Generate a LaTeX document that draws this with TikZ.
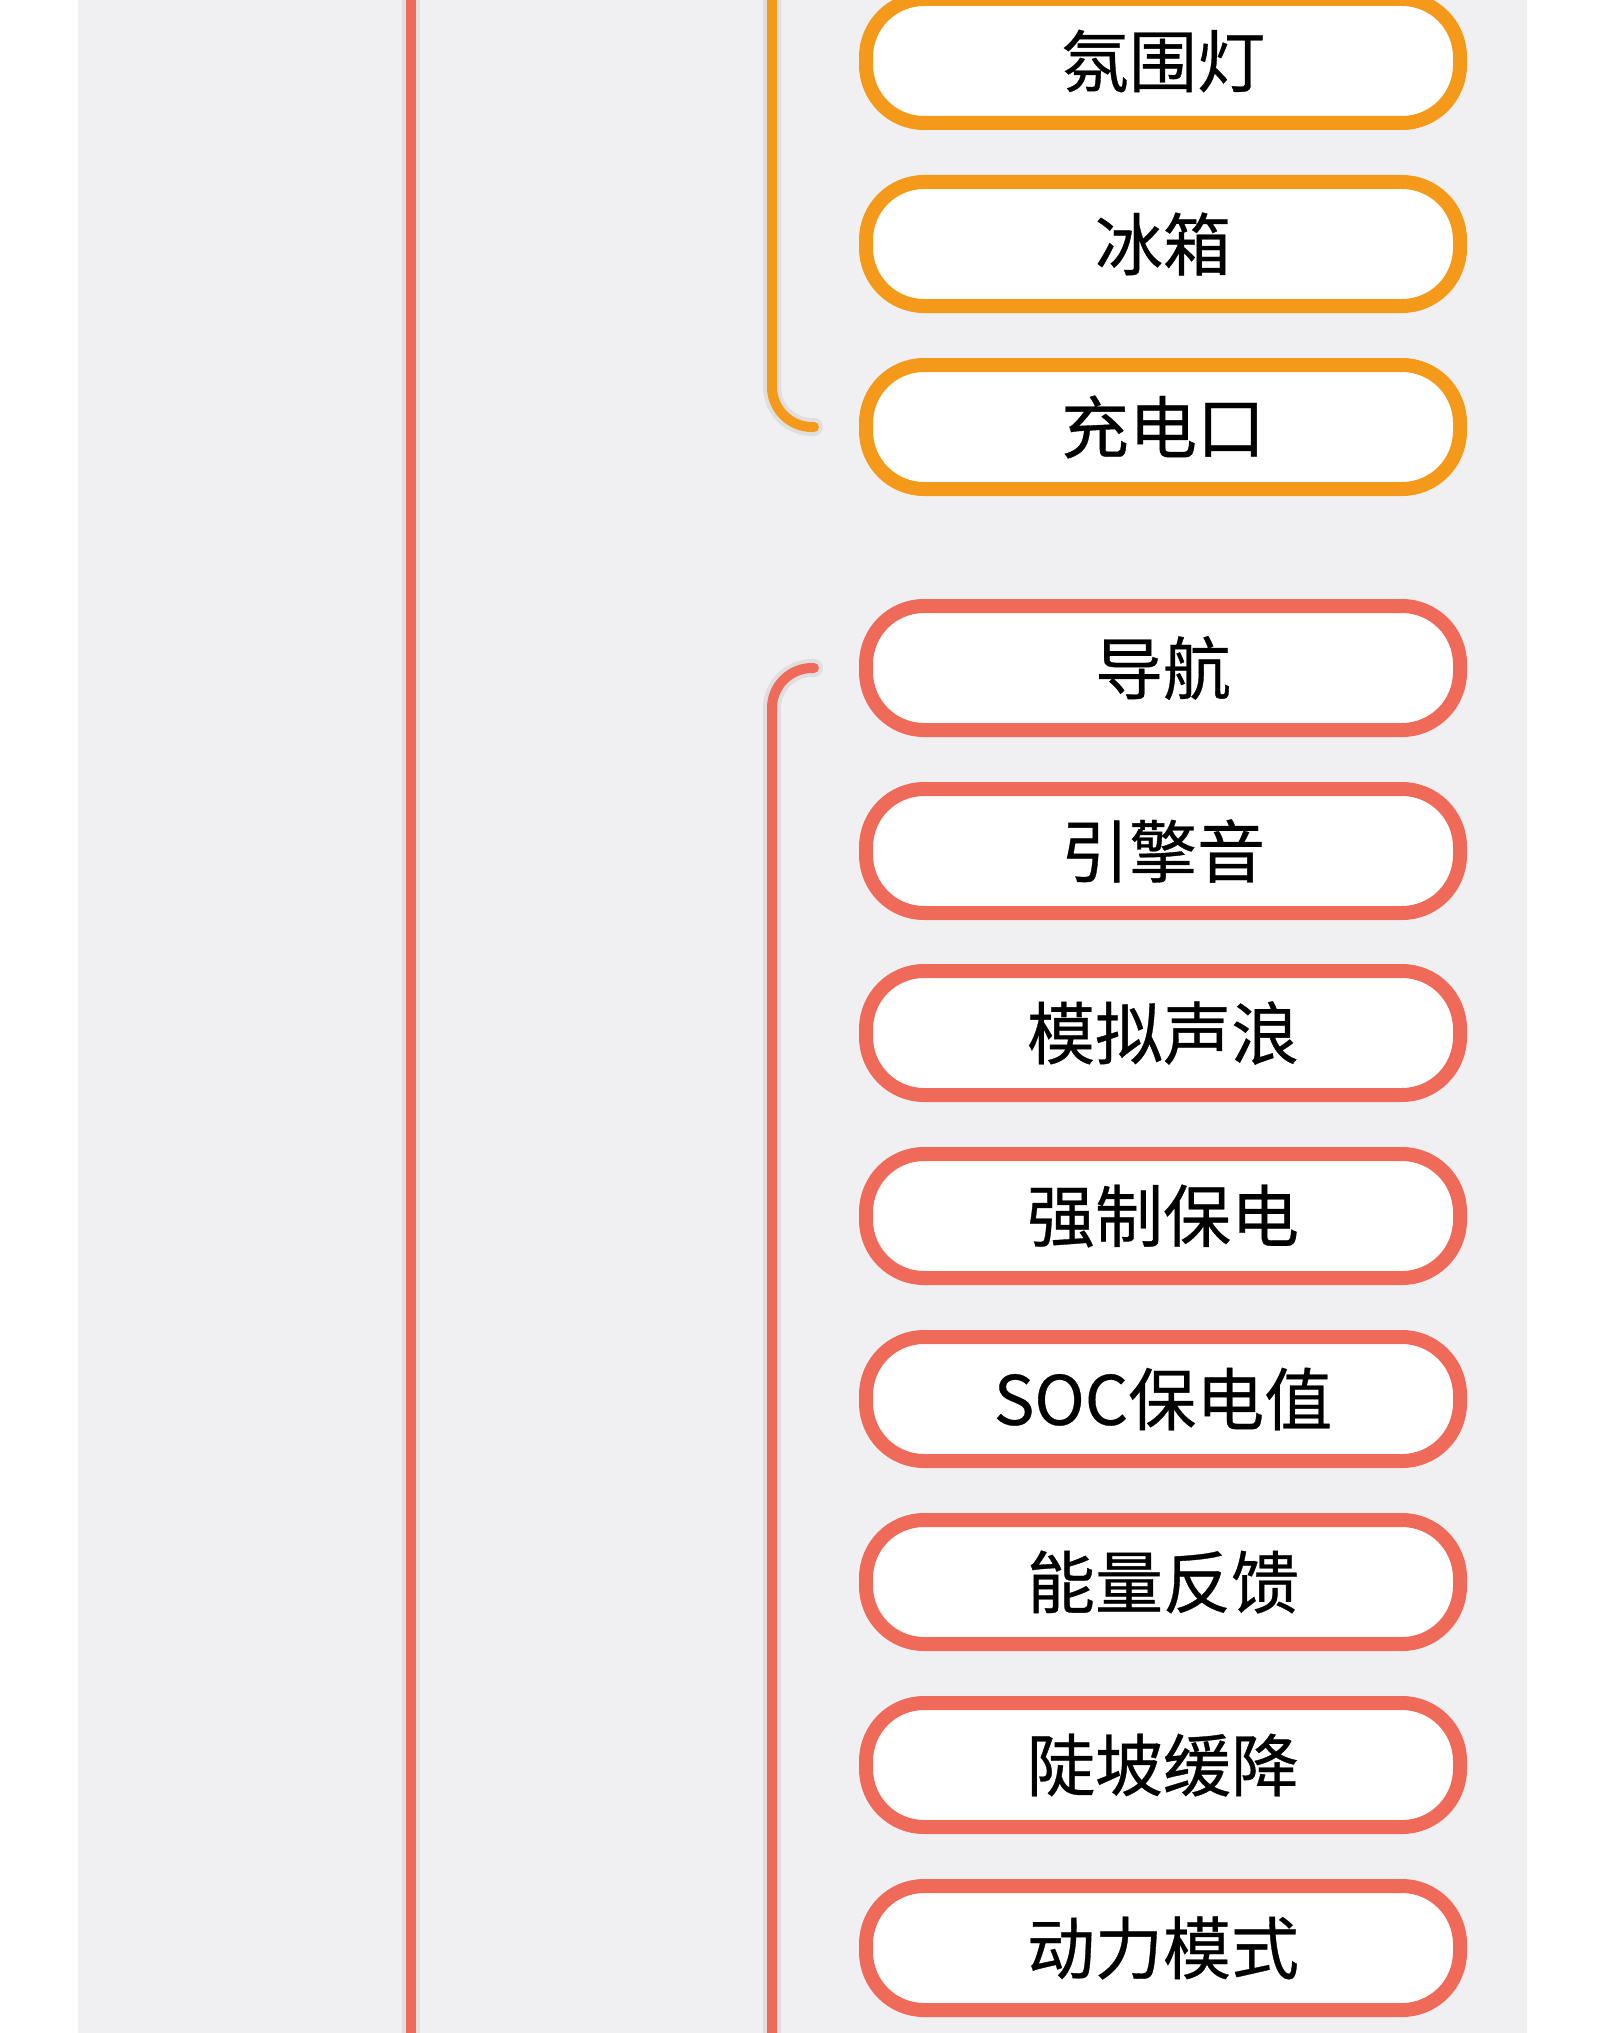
\documentclass[tikz,border=0pt]{standalone}
\usepackage{fontspec}
\newfontfamily\cjk{Noto Sans CJK SC}[FakeBold=0.5]
\usetikzlibrary{shadows}
\definecolor{bggray}{RGB}{240,240,242}
\definecolor{orangeline}{RGB}{244,153,26}
\definecolor{redline}{RGB}{240,106,90}
\begin{document}
\begin{tikzpicture}[x=0.5pt,y=-0.5pt,
  itembox/.style={draw, line width=7pt, fill=white, rounded corners=29pt,
    minimum width=297pt, minimum height=62pt, inner sep=0pt, outer sep=0pt,
    font=\cjk\fontsize{34}{40}\selectfont, text=black,
    drop shadow={shadow xshift=1pt, shadow yshift=-3pt, opacity=0.3, fill=black!60}},
  obox/.style={itembox, draw=orangeline},
  rbox/.style={itembox, draw=redline},
  conn/.style={line width=5pt, line cap=round, rounded corners=20pt},
  connshadow/.style={line width=9pt, draw=black, opacity=0.07, line cap=round, rounded corners=20pt}
]
\useasboundingbox (0,0) rectangle (1600,2033);
\clip (0,0) rectangle (1600,2033);
\fill[white] (0,0) rectangle (1600,2033);
\fill[bggray] (78,0) rectangle (1527,2033);

% coordinates of free line ends
\coordinate (rtop) at (411,-20);
\coordinate (rbot) at (411,2053);
\coordinate (otop) at (772,-20);
\coordinate (sbot) at (772,2053);

% orange group
\node[obox] (o1) at (1163,61) {氛围灯};
\node[obox] (o2) at (1163,244) {冰箱};
\node[obox] (o3) at (1163,427) {充电口};

% red group
\node[rbox] (r1) at (1163,668) {导航};
\node[rbox] (r2) at (1163,851) {引擎音};
\node[rbox] (r3) at (1163,1033) {模拟声浪};
\node[rbox] (r4) at (1163,1216) {强制保电};
\node[rbox] (r5) at (1163,1399) {SOC保电值};
\node[rbox] (r6) at (1163,1582) {能量反馈};
\node[rbox] (r7) at (1163,1765) {陡坡缓降};
\node[rbox] (r8) at (1163,1948) {动力模式};

% connectors
\draw[connshadow] (rtop) -- (rbot);
\draw[conn, draw=redline] (rtop) -- (rbot);

\draw[connshadow] (otop) |- ([xshift=-26pt]o3.west);
\draw[conn, draw=orangeline] (otop) |- ([xshift=-26pt]o3.west);

\draw[connshadow] ([xshift=-26pt]r1.west) -| (sbot);
\draw[conn, draw=redline] ([xshift=-26pt]r1.west) -| (sbot);
\end{tikzpicture}
\end{document}
